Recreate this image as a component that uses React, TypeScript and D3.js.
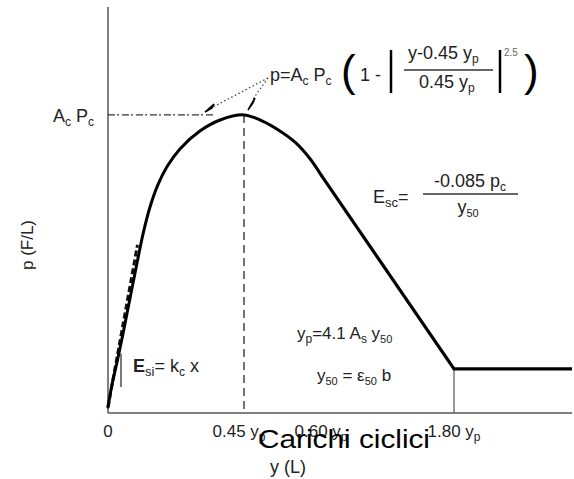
import React from "react";
import * as d3 from "d3";

// Normalised p-y backbone: displacement in units of y_p, resistance in units of A_c·P_c
const dispY = [0, 0.013, 0.03, 0.05, 0.073, 0.096, 0.116, 0.139, 0.165, 0.195, 0.238, 0.304, 0.371, 0.45, 0.485, 0.52, 0.551, 0.579, 0.6];
const resP = [0.02, 0.094, 0.171, 0.268, 0.386, 0.503, 0.601, 0.691, 0.765, 0.826, 0.886, 0.946, 0.983, 1, 0.98, 0.946, 0.906, 0.852, 0.799];

// Linear softening branch and residual plateau
const softY = [0.6, 1.8, 2.2];
const softP = [0.799, 0.148, 0.148];

// Initial tangent (E_si)
const tanY = [0, 0.0976];
const tanP = [0.02, 0.564];

// Axis ticks (schematic positions)
const tickVals = [0, 0.45, 0.6, 1.8];
const tickText = ["0", "0.45 y", "0.60 y", "1.80 y"];
const tickSub = ["", "p", "p", "p"];

const W = 574;
const H = 479;

export default function App() {
  // Piecewise (schematic) displacement axis
  const x = d3.scaleLinear().domain([0, 0.45, 0.6, 1.8, 2.2]).range([108, 244, 321, 454, 572]);
  const y = d3.scaleLinear().domain([0, 1.362]).range([413, 7]);

  const curve = d3
    .line<number>()
    .x((_, i) => x(dispY[i]))
    .y((d) => y(d))
    .curve(d3.curveCatmullRom.alpha(0.5));
  const lin = d3
    .line<number>()
    .x((_, i) => x(softY[i]))
    .y((d) => y(d));
  const tan = d3
    .line<number>()
    .x((_, i) => x(tanY[i]))
    .y((d) => y(d));

  const font = "'Liberation Sans', Arial, Helvetica, sans-serif";
  const axisCol = "#555";
  const ink = "#222";

  const peakX = x(0.45);
  const peakY = y(1);
  const apex = { x: 268, y: 78 };
  const tipA = { x: 209, y: 109 };
  const tipB = { x: 251, y: 104 };

  return (
    <svg
      width={W}
      height={H}
      viewBox={`0 0 ${W} ${H}`}
      style={{ position: "absolute", left: 0, top: 0, background: "#fff" }}
      fontFamily={font}
    >
      <rect width={W} height={H} fill="#fff" />

      {/* axes */}
      <line x1={x(0)} x2={x(0)} y1={y(1.362)} y2={y(0)} stroke={axisCol} strokeWidth={1.5} />
      <line x1={x(0)} x2={x(2.2)} y1={y(0)} y2={y(0)} stroke={axisCol} strokeWidth={1.5} />

      {/* reference lines at the peak */}
      <line x1={x(0)} x2={x(0.352)} y1={peakY} y2={peakY} stroke="#333" strokeWidth={1.2} strokeDasharray="7,2,2,3" />
      <line x1={peakX} x2={peakX} y1={peakY} y2={y(0)} stroke="#444" strokeWidth={1.5} strokeDasharray="8,5" />
      <line x1={x(1.8)} x2={x(1.8)} y1={y(softP[1])} y2={y(0)} stroke={axisCol} strokeWidth={1.2} />

      {/* initial tangent */}
      <path d={tan(tanP) || ""} fill="none" stroke="#111" strokeWidth={3} strokeDasharray="6,3" />
      <line x1={x(0.043)} x2={x(0.043)} y1={y(0.087)} y2={y(0.2)} stroke="#222" strokeWidth={1.2} />

      {/* backbone */}
      <path d={curve(resP) || ""} fill="none" stroke="#000" strokeWidth={3} strokeLinecap="round" strokeLinejoin="round" />
      <path d={lin(softP) || ""} fill="none" stroke="#000" strokeWidth={3.2} strokeLinejoin="miter" />

      {/* leaders from the formula to the curve */}
      <line x1={apex.x} y1={apex.y} x2={tipA.x + 4} y2={tipA.y - 2} stroke="#333" strokeWidth={1.2} strokeDasharray="1.5,2.5" />
      <line x1={apex.x} y1={apex.y} x2={tipB.x + 2} y2={tipB.y - 5} stroke="#333" strokeWidth={1.2} strokeDasharray="1.5,2.5" />
      <path d={`M${tipA.x - 4},${tipA.y + 3} L${tipA.x + 5},${tipA.y - 5} L${tipA.x + 3},${tipA.y - 1} Z`} fill="#000" stroke="#000" strokeWidth={1.5} />
      <path d={`M${tipB.x - 3},${tipB.y + 6} L${tipB.x + 4},${tipB.y - 6} L${tipB.x + 2},${tipB.y - 1} Z`} fill="#000" stroke="#000" strokeWidth={1.5} />

      {/* tick labels */}
      {tickVals.map((v, i) => (
        <text key={i} x={x(v) - (i === 1 ? 5 : 0)} y={437} fontSize={17} textAnchor="middle" fill={ink}>
          {tickText[i]}
          {tickSub[i] && (
            <tspan fontSize={12} dy={4}>
              {tickSub[i]}
            </tspan>
          )}
        </text>
      ))}

      {/* axis titles */}
      <text x={344} y={448} fontSize={26} textAnchor="middle" textLength={172} lengthAdjust="spacingAndGlyphs" fill="#000">
        Carichi ciclici
      </text>
      <text x={288} y={473} fontSize={18} textAnchor="middle" fill={ink}>
        y (L)
      </text>
      <text transform="translate(33,245) rotate(-90)" fontSize={17} textAnchor="middle" fill={ink}>
        p (F/L)
      </text>

      {/* A_c P_c */}
      <text x={53} y={122} fontSize={18} fill={ink}>
        A<tspan fontSize={12} dy={4}>c</tspan>
        <tspan dy={-4}> P</tspan>
        <tspan fontSize={12} dy={4}>c</tspan>
      </text>

      {/* p = A_c P_c (1 - |(y-0.45 y_p)/(0.45 y_p)|^2.5) */}
      <text x={270} y={81} fontSize={18} fill={ink}>
        p=A<tspan fontSize={12} dy={4}>c</tspan>
        <tspan dy={-4}> P</tspan>
        <tspan fontSize={12} dy={4}>c</tspan>
      </text>
      <text x={341} y={86} fontSize={44} fill="#000">(</text>
      <text x={360} y={81} fontSize={18} fill={ink}>1 -</text>
      <line x1={391} x2={391} y1={50} y2={93} stroke="#000" strokeWidth={2.5} />
      <text x={408} y={59} fontSize={18} fill={ink}>
        y-0.45 y<tspan fontSize={12} dy={4}>p</tspan>
      </text>
      <line x1={404} x2={493} y1={70} y2={70} stroke="#333" strokeWidth={1.3} />
      <text x={419} y={88} fontSize={18} fill={ink}>
        0.45 y<tspan fontSize={12} dy={4}>p</tspan>
      </text>
      <line x1={500} x2={500} y1={50} y2={93} stroke="#000" strokeWidth={2.5} />
      <text x={504} y={56} fontSize={10} fill="#666">2.5</text>
      <text x={524} y={86} fontSize={44} fill="#000">)</text>

      {/* E_sc = -0.085 p_c / y_50 */}
      <text x={373} y={203} fontSize={18} fill={ink}>
        E<tspan fontSize={13} dy={4}>sc</tspan>
        <tspan dy={-4}>=</tspan>
      </text>
      <text x={470} y={187} fontSize={18} textAnchor="middle" fill={ink}>
        -0.085 p<tspan fontSize={12} dy={4}>c</tspan>
      </text>
      <line x1={423} x2={518} y1={194} y2={194} stroke="#333" strokeWidth={1.3} />
      <text x={468} y={213} fontSize={18} textAnchor="middle" fill={ink}>
        y<tspan fontSize={11} dy={4}>50</tspan>
      </text>

      {/* y_p = 4.1 A_s y_50 ; y_50 = ε_50 b */}
      <text x={297} y={339} fontSize={17} fill={ink}>
        y<tspan fontSize={12} dy={4}>p</tspan>
        <tspan dy={-4}>=4.1 A</tspan>
        <tspan fontSize={12} dy={4}>s</tspan>
        <tspan dy={-4}> y</tspan>
        <tspan fontSize={11} dy={4}>50</tspan>
      </text>
      <text x={317} y={381} fontSize={17} fill={ink}>
        y<tspan fontSize={11} dy={4}>50</tspan>
        <tspan dy={-4}> = ε</tspan>
        <tspan fontSize={11} dy={4}>50</tspan>
        <tspan dy={-4}> b</tspan>
      </text>

      {/* E_si = k_c x */}
      <text x={133} y={372} fontSize={18} fill={ink}>
        <tspan fontWeight="bold">E</tspan>
        <tspan fontSize={13} dy={4}>si</tspan>
        <tspan dy={-4}>= k</tspan>
        <tspan fontSize={12} dy={4}>c</tspan>
        <tspan dy={-4}> x</tspan>
      </text>
    </svg>
  );
}
